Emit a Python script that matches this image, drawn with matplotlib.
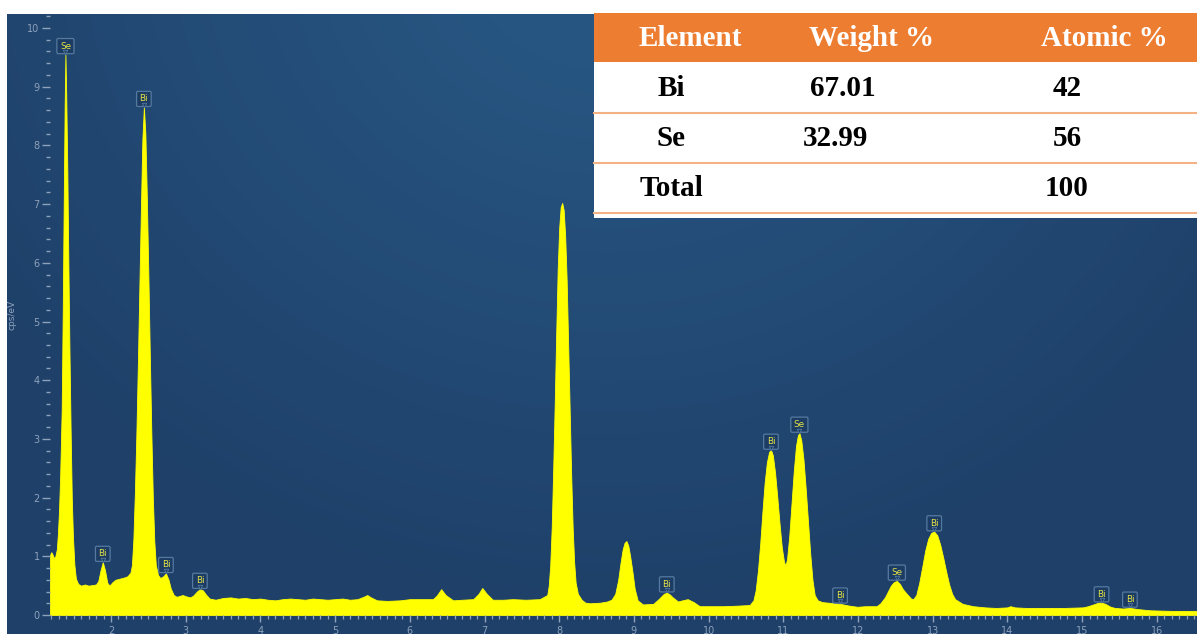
import numpy as np
import matplotlib
matplotlib.use("Agg")
from matplotlib import pyplot as plt
from matplotlib.patches import Rectangle
from matplotlib.ticker import MultipleLocator
from matplotlib.transforms import offset_copy

# EDS spectrum, (energy keV, counts cps/eV)
spectrum = [
    (1.183, 1.02), (1.20, 1.07), (1.215, 1.04), (1.235, 0.97), (1.255, 1.00),
    (1.275, 1.12), (1.29, 1.40), (1.305, 1.80), (1.32, 2.40), (1.34, 3.50),
    (1.355, 5.30), (1.37, 7.40), (1.38, 8.70), (1.39, 9.55), (1.40, 8.90),
    (1.415, 7.60), (1.43, 5.90), (1.445, 4.40), (1.46, 3.10), (1.475, 2.00),
    (1.49, 1.35), (1.51, 0.85), (1.53, 0.62), (1.56, 0.53), (1.60, 0.50),
    (1.65, 0.52), (1.70, 0.50), (1.75, 0.51), (1.80, 0.52), (1.83, 0.58),
    (1.86, 0.76), (1.89, 0.90), (1.92, 0.76), (1.95, 0.55), (1.98, 0.50),
    (2.02, 0.56), (2.06, 0.60), (2.12, 0.62), (2.18, 0.64), (2.22, 0.66),
    (2.26, 0.72), (2.28, 0.85), (2.30, 1.30), (2.32, 2.10), (2.34, 3.10),
    (2.36, 4.30), (2.38, 5.60), (2.40, 6.90), (2.42, 8.10), (2.44, 8.65),
    (2.46, 8.20), (2.48, 7.10), (2.50, 5.80), (2.52, 4.40), (2.54, 3.10),
    (2.56, 2.00), (2.58, 1.25), (2.60, 0.85), (2.63, 0.68), (2.66, 0.63),
    (2.70, 0.66), (2.735, 0.71), (2.77, 0.60), (2.80, 0.45), (2.84, 0.34),
    (2.88, 0.31), (2.93, 0.33), (2.96, 0.34), (3.00, 0.32), (3.06, 0.30),
    (3.10, 0.33), (3.15, 0.40), (3.19, 0.44), (3.23, 0.42), (3.27, 0.35),
    (3.32, 0.28), (3.40, 0.26), (3.50, 0.29), (3.60, 0.30), (3.70, 0.28),
    (3.80, 0.29), (3.90, 0.27), (4.00, 0.28), (4.10, 0.26), (4.20, 0.25),
    (4.30, 0.27), (4.40, 0.28), (4.50, 0.27), (4.60, 0.26), (4.70, 0.28),
    (4.80, 0.27), (4.90, 0.26), (5.00, 0.27), (5.10, 0.28), (5.20, 0.26),
    (5.30, 0.27), (5.38, 0.31), (5.43, 0.34), (5.48, 0.30), (5.56, 0.25),
    (5.70, 0.24), (5.87, 0.25), (6.00, 0.27), (6.15, 0.27), (6.31, 0.27),
    (6.36, 0.33), (6.42, 0.44), (6.48, 0.34), (6.58, 0.25), (6.70, 0.26),
    (6.85, 0.27), (6.92, 0.36), (6.97, 0.46), (7.03, 0.36), (7.11, 0.26),
    (7.25, 0.26), (7.38, 0.27), (7.55, 0.26), (7.74, 0.27), (7.84, 0.34),
    (7.86, 0.50), (7.88, 0.85), (7.90, 1.50), (7.92, 2.50), (7.94, 3.60),
    (7.96, 4.80), (7.98, 5.90), (8.00, 6.60), (8.02, 6.95), (8.04, 7.02),
    (8.06, 6.90), (8.08, 6.45), (8.10, 5.70), (8.12, 4.60), (8.14, 3.50),
    (8.16, 2.40), (8.18, 1.50), (8.20, 0.90), (8.22, 0.55), (8.25, 0.36),
    (8.30, 0.26), (8.35, 0.21), (8.41, 0.20), (8.55, 0.21), (8.64, 0.23),
    (8.70, 0.26), (8.75, 0.36), (8.79, 0.60), (8.82, 0.88), (8.85, 1.12),
    (8.875, 1.23), (8.90, 1.26), (8.925, 1.18), (8.95, 1.00), (8.98, 0.74),
    (9.01, 0.45), (9.05, 0.25), (9.12, 0.18), (9.26, 0.19), (9.33, 0.27),
    (9.40, 0.36), (9.44, 0.38), (9.48, 0.35), (9.52, 0.30), (9.59, 0.23),
    (9.65, 0.25), (9.72, 0.27), (9.80, 0.22), (9.88, 0.15), (10.0, 0.15),
    (10.2, 0.15), (10.4, 0.16), (10.55, 0.17), (10.60, 0.25), (10.63, 0.42),
    (10.66, 0.75), (10.69, 1.20), (10.72, 1.75), (10.75, 2.25), (10.78, 2.60),
    (10.81, 2.78), (10.835, 2.81), (10.86, 2.72), (10.89, 2.42), (10.92, 2.00),
    (10.95, 1.55), (10.98, 1.15), (11.01, 0.90), (11.03, 0.85), (11.05, 0.95),
    (11.08, 1.35), (11.11, 1.90), (11.14, 2.45), (11.17, 2.88), (11.195, 3.06),
    (11.215, 3.10), (11.24, 2.98), (11.27, 2.65), (11.30, 2.15), (11.33, 1.60),
    (11.36, 1.05), (11.39, 0.60), (11.42, 0.34), (11.46, 0.25), (11.52, 0.22),
    (11.60, 0.21), (11.76, 0.19), (11.88, 0.16), (11.99, 0.14), (12.10, 0.15),
    (12.25, 0.15), (12.30, 0.20), (12.36, 0.30), (12.40, 0.40), (12.44, 0.50),
    (12.48, 0.56), (12.52, 0.58), (12.56, 0.53), (12.60, 0.44), (12.66, 0.35),
    (12.71, 0.28), (12.74, 0.27), (12.78, 0.34), (12.82, 0.55), (12.86, 0.82),
    (12.90, 1.10), (12.94, 1.30), (12.98, 1.40), (13.02, 1.42), (13.06, 1.36),
    (13.10, 1.20), (13.14, 0.98), (13.18, 0.74), (13.22, 0.52), (13.26, 0.36),
    (13.30, 0.27), (13.40, 0.19), (13.54, 0.15), (13.70, 0.13), (13.85, 0.12),
    (14.0, 0.13), (14.04, 0.15), (14.1, 0.13), (14.25, 0.12), (14.5, 0.12),
    (14.75, 0.12), (15.01, 0.13), (15.08, 0.15), (15.15, 0.18), (15.22, 0.21),
    (15.26, 0.21), (15.31, 0.19), (15.38, 0.14), (15.44, 0.12), (15.55, 0.11),
    (15.64, 0.12), (15.75, 0.10), (15.91, 0.08), (16.2, 0.07), (16.54, 0.07),
]

# peak markers
peak_elements = ["Se", "Bi", "Bi", "Bi", "Bi", "Bi", "Bi", "Se", "Bi", "Se", "Bi", "Bi", "Bi"]
peak_energy = [1.39, 1.89, 2.44, 2.735, 3.19, 9.44, 10.835, 11.215, 11.76, 12.52, 13.02, 15.26, 15.64]

# composition table
table_header = ["Element", "Weight %", "Atomic %"]
table_elements = ["Bi", "Se", "Total"]
table_weight = ["67.01", "32.99", ""]
table_atomic = ["42", "56", "100"]

W, H = 1197, 634
tick_c = "#8ea2bb"

energy = np.array([p[0] for p in spectrum])
counts = np.array([p[1] for p in spectrum])

fig = plt.figure(figsize=(W / 100, H / 100), dpi=100, facecolor="white")

# dark blue panel with a soft glow near the top
bg = fig.add_axes([7 / W, 0, (W - 7) / W, (H - 14) / H])
yy, xx = np.mgrid[0:620, 0:1190]
d = np.hypot(xx - 600, (yy + 80) * 1.1)
t = np.clip((d - 150) / 600, 0, 1)[..., None]
inner = np.array([39, 85, 129]) / 255
outer = np.array([30, 64, 105]) / 255
bg.imshow(inner * (1 - t) + outer * t, aspect="auto", interpolation="bilinear")
bg.axis("off")

ax = fig.add_axes([50 / W, 19 / H, (W - 50) / W, 601 / H])
ax.patch.set_alpha(0)
ax.fill_between(energy, 0, counts, color="#ffff00", lw=0.6, edgecolor="#ffff00")
ax.set_xlim(1.1834, 16.538)
ax.set_ylim(0, 601 / 58.7)
for s in ax.spines.values():
    s.set_visible(False)

ax.set_xticks(range(2, 17))
ax.xaxis.set_minor_locator(MultipleLocator(0.1))
ax.set_yticks(range(0, 11))
ax.yaxis.set_minor_locator(MultipleLocator(0.2))
ax.tick_params(axis="x", which="major", length=5, width=1.0, color=tick_c,
               labelsize=7, labelcolor=tick_c, pad=3)
ax.tick_params(axis="x", which="minor", length=2.9, width=0.9, color=tick_c)
ax.tick_params(axis="y", which="major", length=5.5, width=1.0, color=tick_c,
               labelsize=7, labelcolor=tick_c, pad=2)
ax.tick_params(axis="y", which="minor", length=2.9, width=1.0, color=tick_c)
fig.text(12 / W, 1 - 315 / H, "cps/eV", rotation=90, fontsize=6.5, color=tick_c,
         ha="center", va="center")

# element tags sitting on the peaks, with a small pointer under each box
tip = offset_copy(ax.transData, fig=fig, y=2.5, units="dots")
for el, e in zip(peak_elements, peak_energy):
    y = np.interp(e, energy, counts)
    ax.annotate(el, xy=(e, y), xytext=(0, 6.0), textcoords="offset points",
                ha="center", va="center", fontsize=6.3, color="#e4e446",
                bbox=dict(boxstyle="round,pad=0.35,rounding_size=0.15",
                          fc="#1d3c63", ec="#557aa0", lw=0.9), zorder=4)
    ax.plot([e], [y], marker="v", ms=3.2, mfc="#1d3c63", mec="#557aa0",
            mew=0.6, transform=tip, zorder=5, clip_on=False)

# table in pixel coordinates
ov = fig.add_axes([0, 0, 1, 1])
ov.set_xlim(0, W)
ov.set_ylim(H, 0)
ov.axis("off")
ov.add_patch(Rectangle((594, 13), W - 594, 205, fc="white", ec="none"))
ov.add_patch(Rectangle((594, 13), W - 594, 49, fc="#ed7d31", ec="none"))
for ly in [113, 163, 213]:
    ov.plot([594, W], [ly, ly], color="#f4b183", lw=1.5)

serif = dict(family="Liberation Serif", weight="bold", fontsize=21, ha="center", va="center")
for x, txt in zip([690, 872, 1104], table_header):
    ov.text(x, 39, txt, color="white", **serif)
row_y = [89, 139, 189]
weight_x = [843, 835, 840]
for i in range(len(table_elements)):
    ov.text(671, row_y[i], table_elements[i], color="black", **serif)
    ov.text(weight_x[i], row_y[i], table_weight[i], color="black", **serif)
    ov.text(1067, row_y[i], table_atomic[i], color="black", **serif)

fig.savefig("out.png", dpi=100)
